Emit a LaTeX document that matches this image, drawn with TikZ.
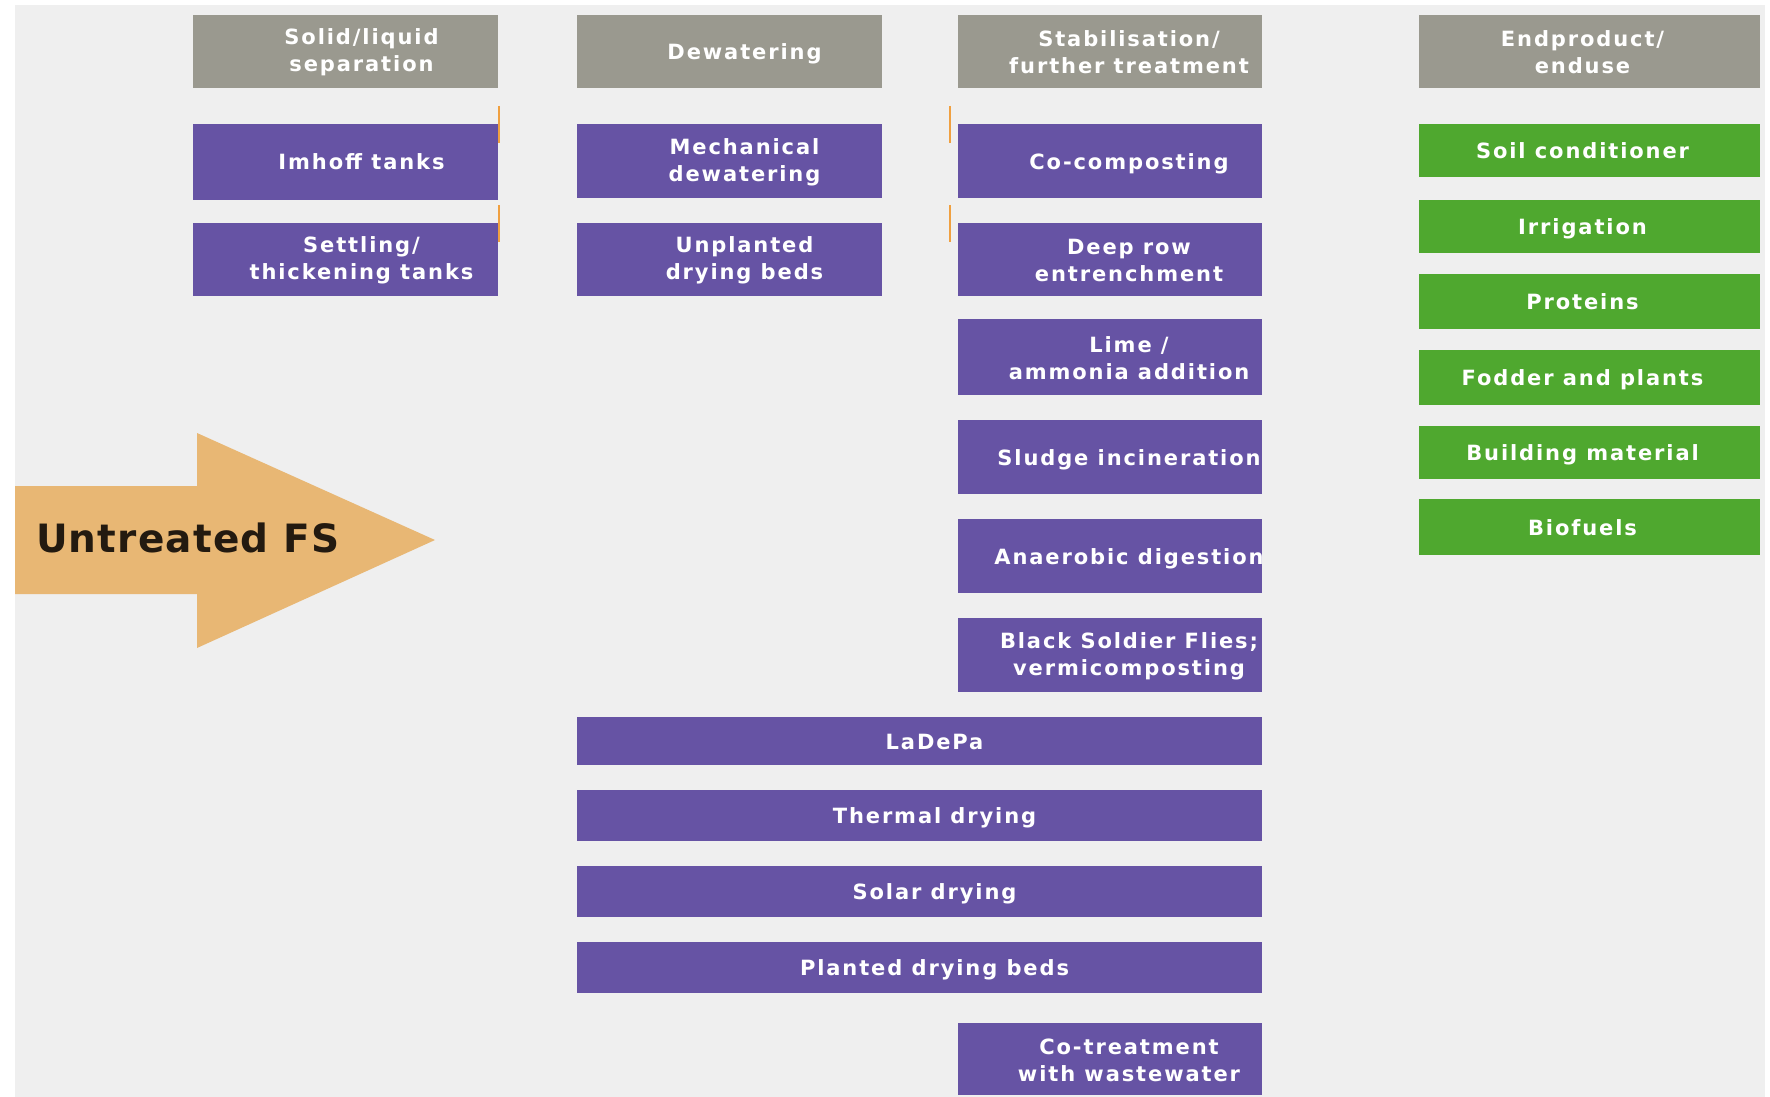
\documentclass[tikz,border=0pt]{standalone}
\usepackage{fontspec}
\setmainfont{DejaVu Sans}
\newfontfamily\boxfont{DejaVu Sans}[LetterSpace=9]
\newfontfamily\bigfont{DejaVu Sans}[LetterSpace=3]
\definecolor{bgc}{HTML}{EFEFEF}
\definecolor{hdrc}{HTML}{9A998F}
\definecolor{purpc}{HTML}{6653A4}
\definecolor{grnc}{HTML}{4FA82F}
\definecolor{arrc}{HTML}{E8B774}
\definecolor{darkc}{HTML}{231A10}
\definecolor{tickc}{HTML}{F0A040}
% two-line box
\newcommand\mkbox[8]{%
  \node[#2, minimum width={(#5-#3)*1pt}, minimum height={(#6-#4)*1pt}] (#1) at ({(#3+#5)/2},{(#4+#6)/2}) {};
  \node[boxtxt] (#1-t) at ([xshift=#7pt,yshift=-1pt]#1.center) {#8};
}
% one-line box (centred on the capitals, descenders ignored)
\newcommand\mkboxs[8]{%
  \node[#2, minimum width={(#5-#3)*1pt}, minimum height={(#6-#4)*1pt}] (#1) at ({(#3+#5)/2},{(#4+#6)/2}) {};
  \node[boxtxt, text height=16pt, text depth=0pt] (#1-t) at ([xshift=#7pt]#1.center) {#8};
}
\begin{document}
\begin{tikzpicture}[x=1pt,y=-1pt,
  basebox/.style={rectangle, inner sep=0pt, outer sep=0pt, draw=none},
  hdrbox/.style={basebox, fill=hdrc},
  purpbox/.style={basebox, fill=purpc},
  grnbox/.style={basebox, fill=grnc},
  boxtxt/.style={inner sep=0pt, text=white, align=center, font=\boxfont\bfseries\fontsize{21}{27}\selectfont},
  tickln/.style={draw=tickc, line width=1.5pt}]
\useasboundingbox (0,0) rectangle (1770,1097);
\fill[bgc] (15,5) rectangle (1765,1097);
% arrow
\fill[arrc] (15,486) -- (197,486) -- (197,433) -- (435,540) -- (197,648) -- (197,594) -- (15,594) -- cycle;
\node[anchor=base west, inner sep=0pt, text=darkc, font=\bigfont\bfseries\fontsize{39}{45}\selectfont] (fs) at (36,552) {Untreated FS};
% headers
\mkbox{h1}{hdrbox}{193}{15}{498}{88}{16}{Solid/liquid\\separation}
\mkboxs{h2}{hdrbox}{577}{15}{882}{88}{15}{Dewatering}
\mkbox{h3}{hdrbox}{958}{15}{1262}{88}{19}{Stabilisation/\\further treatment}
\mkbox{h4}{hdrbox}{1419}{15}{1760}{88}{-7}{Endproduct/\\enduse}
% column 1
\mkboxs{imhoff}{purpbox}{193}{124}{498}{200}{16}{Imhoff tanks}
\mkbox{settling}{purpbox}{193}{223}{498}{296}{16}{Settling/\\thickening tanks}
% column 2
\mkbox{mech}{purpbox}{577}{124}{882}{198}{15}{Mechanical\\dewatering}
\mkbox{unpl}{purpbox}{577}{223}{882}{296}{15}{Unplanted\\drying beds}
% column 3
\mkboxs{cocomp}{purpbox}{958}{124}{1262}{198}{19}{Co-composting}
\mkbox{deeprow}{purpbox}{958}{223}{1262}{296}{19}{Deep row\\entrenchment}
\mkbox{lime}{purpbox}{958}{319}{1262}{395}{19}{Lime /\\ammonia addition}
\mkboxs{sludge}{purpbox}{958}{420}{1262}{494}{19}{Sludge incineration}
\mkboxs{anaer}{purpbox}{958}{519}{1262}{593}{19}{Anaerobic digestion}
\mkbox{bsf}{purpbox}{958}{618}{1262}{692}{19}{Black Soldier Flies;\\vermicomposting}
% wide boxes
\mkboxs{ladepa}{purpbox}{577}{717}{1262}{765}{15}{LaDePa}
\mkboxs{thermal}{purpbox}{577}{790}{1262}{841}{15}{Thermal drying}
\mkboxs{solar}{purpbox}{577}{866}{1262}{917}{15}{Solar drying}
\mkboxs{planted}{purpbox}{577}{942}{1262}{993}{15}{Planted drying beds}
\mkbox{cotreat}{purpbox}{958}{1023}{1262}{1095}{19}{Co-treatment\\with wastewater}
% end products
\mkboxs{soil}{grnbox}{1419}{124}{1760}{177}{-7}{Soil conditioner}
\mkboxs{irr}{grnbox}{1419}{200}{1760}{253}{-7}{Irrigation}
\mkboxs{prot}{grnbox}{1419}{274}{1760}{329}{-7}{Proteins}
\mkboxs{fodder}{grnbox}{1419}{350}{1760}{405}{-7}{Fodder and plants}
\mkboxs{build}{grnbox}{1419}{426}{1760}{479}{-7}{Building material}
\mkboxs{bio}{grnbox}{1419}{499}{1760}{555}{-7}{Biofuels}
% small orange ticks
\draw[tickln] ([shift={(1,-18)}]imhoff.north east) -- ++(0,37);
\draw[tickln] ([shift={(1,-18)}]settling.north east) -- ++(0,37);
\draw[tickln] ([shift={(-8,-18)}]cocomp.north west) -- ++(0,37);
\draw[tickln] ([shift={(-8,-18)}]deeprow.north west) -- ++(0,37);
\end{tikzpicture}
\end{document}
